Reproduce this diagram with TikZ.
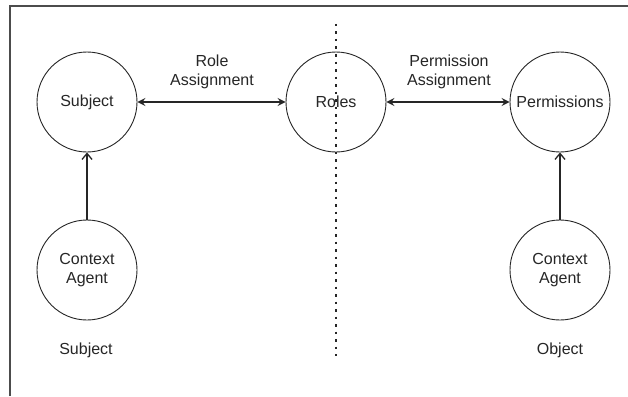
\documentclass[tikz,border=0pt]{standalone}
\usepackage{fontspec}
\setmainfont{Liberation Sans}
\usetikzlibrary{arrows.meta}
\begin{document}
\begin{tikzpicture}[x=1pt,y=-1pt,
  circ/.style={draw=black!85, line width=0.9pt, circle, minimum size=100pt, inner sep=0pt, align=center, font=\fontsize{16}{19}\selectfont, text=black!85},
  lbl/.style={align=center, font=\fontsize{16}{19}\selectfont, text=black!85},
  conn/.style={line width=1.3pt, draw=black!85},
  tip/.style={-{Stealth[length=8pt,width=8pt,inset=3pt]}}
]
\useasboundingbox (0,0) rectangle (628,396);
\fill[white] (0,0) rectangle (628,396);
% frame
\draw[line width=1.5pt, draw=black!70] (10,396) -- (10,6) -- (628,6);
% dotted divider
\coordinate (dtop) at (336,24);
\coordinate (dbot) at (336,356);
\draw[line width=1.6pt, dash pattern=on 2.5pt off 5pt, draw=black!85] (dtop) -- (dbot);
% nodes
\node[circ] (subj) at (87,102) {Subject};
\node[circ] (roles) at (336,102) {Roles};
\node[circ] (perm) at (560,102) {Permissions};
\node[circ] (ca1) at (87,270) {Context\\Agent};
\node[circ] (ca2) at (560,270) {Context\\Agent};
% labels
\node[lbl] (ra) at (212,72) {Role\\Assignment};
\node[lbl] (pa) at (449,72) {Permission\\Assignment};
\node[lbl] (sl) at (86,350) {Subject};
\node[lbl] (ol) at (560,350) {Object};
% connectors
\draw[conn, {Stealth[length=8pt,width=8pt,inset=3pt]}-{Stealth[length=8pt,width=8pt,inset=3pt]}] (subj) -- (roles);
\draw[conn, {Stealth[length=8pt,width=8pt,inset=3pt]}-{Stealth[length=8pt,width=8pt,inset=3pt]}] (roles) -- (perm);
\draw[conn, -{Straight Barb[length=6pt,width=10pt]}] (ca1) -- (subj);
\draw[conn, -{Straight Barb[length=6pt,width=10pt]}] (ca2) -- (perm);
\end{tikzpicture}
\end{document}
